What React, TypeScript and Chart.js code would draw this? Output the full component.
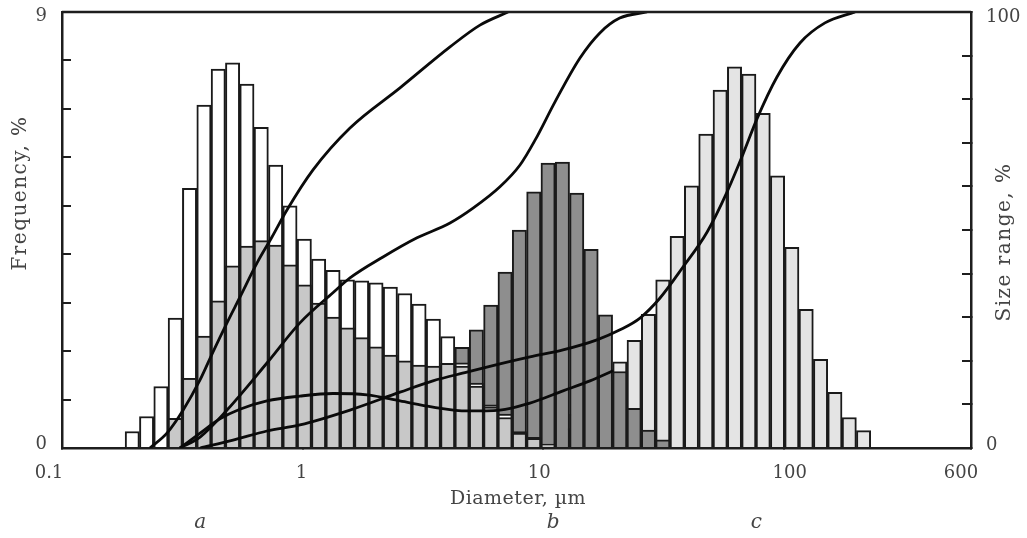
import { useEffect, useRef } from 'react';
import { Chart, registerables } from 'chart.js';

Chart.register(...registerables);

// Bin centres (µm), log-spaced
const diameters = [
  0.1959, 0.2247, 0.2577, 0.2956, 0.339, 0.389, 0.4461, 0.5117, 0.5869, 0.6731,
  0.7727, 0.8862, 1.0167, 1.166, 1.338, 1.535, 1.76, 2.019, 2.316, 2.657,
  3.048, 3.496, 4.01, 4.6, 5.277, 6.053, 6.944, 7.964, 9.138, 10.48,
  12.02, 13.79, 15.82, 18.15, 20.82, 23.88, 27.39, 31.42, 36.05, 41.34,
  47.43, 54.4, 62.4, 71.57, 82.11, 94.19, 108.0, 123.9, 142.2, 163.1,
  187.1, 214.6,
];

// Frequency (%), white histogram
const freqWhite = [
  0.34, 0.65, 1.27, 2.68, 5.36, 7.08, 7.82, 7.95, 7.51, 6.62,
  5.84, 5.0, 4.31, 3.9, 3.67, 3.47, 3.45, 3.41, 3.32, 3.19,
  2.97, 2.66, 2.3, 1.76, 1.34, 0.89, 0.7, 0.34, 0.22, 0,
  0, 0, 0, 0, 0, 0, 0, 0, 0, 0,
  0, 0, 0, 0, 0, 0, 0, 0, 0, 0,
  0, 0,
];
// Frequency (%), medium grey histogram
const freqMid = [
  0, 0, 0, 0.61, 1.44, 2.31, 3.04, 3.76, 4.17, 4.28,
  4.19, 3.78, 3.37, 2.99, 2.7, 2.48, 2.28, 2.09, 1.92, 1.8,
  1.71, 1.69, 1.75, 1.69, 1.28, 0.85, 0.63, 0.31, 0.2, 0.08,
  0, 0, 0, 0, 0, 0, 0, 0, 0, 0,
  0, 0, 0, 0, 0, 0, 0, 0, 0, 0,
  0, 0,
];
// Frequency (%), dark grey histogram (b)
const freqDark = [
  0, 0, 0, 0, 0, 0, 0, 0, 0, 0,
  0, 0, 0, 0, 0, 0, 0, 0, 0, 0,
  0.3, 0.7, 1.3, 2.08, 2.44, 2.95, 3.63, 4.5, 5.29, 5.88,
  5.9, 5.26, 4.1, 2.75, 1.58, 0.82, 0.37, 0.17, 0, 0,
  0, 0, 0, 0, 0, 0, 0, 0, 0, 0,
  0, 0,
];
// Frequency (%), light grey histogram (c)
const freqLight = [
  0, 0, 0, 0, 0, 0, 0, 0, 0, 0,
  0, 0, 0, 0, 0, 0, 0, 0, 0, 0,
  0, 0, 0, 0, 0, 0, 0, 0, 0.1, 0.2,
  0.4, 0.7, 1.0, 1.4, 1.78, 2.22, 2.76, 3.47, 4.37, 5.41,
  6.48, 7.39, 7.87, 7.72, 6.91, 5.62, 4.14, 2.86, 1.83, 1.15,
  0.63, 0.36,
];

// Cumulative curves (Size range, %)
const curve1X = [0.232, 0.273, 0.319, 0.3747, 0.424, 0.485, 0.549, 0.646, 0.746, 0.861, 1.105, 1.574, 2.54, 4.1, 5.46, 7.14];
const curve1Y = [0, 3.4, 8.7, 15.6, 22.0, 28.7, 34.6, 42.4, 48.4, 54.6, 63.8, 73.4, 82.6, 92.0, 97.0, 100];

const curve2X = [0.309, 0.375, 0.485, 0.711, 0.975, 1.337, 1.574, 2.159, 2.99, 4.1, 5.11, 6.61, 8.01, 9.25, 11.2, 14.2, 17.2, 20.8, 27.0];
const curve2Y = [0, 2.5, 8.7, 19.5, 28.7, 35.6, 39.0, 43.8, 48.2, 51.6, 55.0, 59.9, 64.9, 70.6, 79.4, 89.4, 95.2, 98.6, 100];

const curve3X = [0.309, 0.375, 0.4535, 0.549, 0.711, 0.975, 1.337, 1.853, 2.54, 3.48, 4.82, 6.61, 8.81, 12.09, 15.65, 19.5];
const curve3Y = [0, 3.4, 6.7, 8.9, 10.8, 11.9, 12.5, 12.2, 10.8, 9.4, 8.5, 8.7, 10.3, 13.1, 15.4, 17.7];

const curve4X = [0.375, 0.514, 0.711, 0.975, 1.574, 2.54, 3.48, 4.82, 6.61, 8.81, 12.09, 16.73, 20.86, 25.26, 30.59, 38.11, 47.96, 58.07, 67.69, 77.37, 93.69, 116.75, 148.3, 197.7];
const curve4Y = [0, 1.8, 3.9, 5.3, 8.7, 12.8, 15.4, 17.4, 19.3, 20.9, 22.5, 24.8, 27.1, 29.8, 34.4, 41.5, 49.5, 58.7, 67.4, 75.5, 85.1, 92.9, 97.5, 100];

const xTickValues = [0.1, 1, 10, 100, 600];
const xTickLabels = ['0.1', '1', '10', '100', '600'];
const xLabelShift = [-13, -1, -4, 6, -10];
const sampleLabels = ['a', 'b', 'c'];
const sampleLabelPos = [0.375, 11, 77];

const SERIF = '"DejaVu Serif", "Liberation Serif", serif';
const TEXT = '#444444';
const AXIS = '#1e1e1e';

const pts = (xs: number[], ys: number[]) => xs.map((x, i) => ({ x, y: ys[i] }));

const framePlugin = {
  id: 'frame',
  afterDraw(chart: any) {
    const ctx = chart.ctx as CanvasRenderingContext2D;
    const a = chart.chartArea;
    const xs = chart.scales.x;
    const ys = chart.scales.y;
    const y2 = chart.scales.y2;
    ctx.save();
    ctx.strokeStyle = AXIS;
    ctx.lineWidth = 2.5;
    ctx.beginPath();
    ctx.moveTo(a.left, a.top);
    ctx.lineTo(a.right, a.top);
    ctx.stroke();
    ctx.fillStyle = TEXT;
    ctx.textBaseline = 'middle';
    // tick labels
    ctx.font = `18px ${SERIF}`;
    ctx.textAlign = 'center';
    xTickValues.forEach((v, i) => {
      ctx.fillText(xTickLabels[i], xs.getPixelForValue(v) + xLabelShift[i], 473);
    });
    ctx.textAlign = 'right';
    ctx.fillText('9', a.left - 15, ys.getPixelForValue(9) + 4);
    ctx.fillText('0', a.left - 15, ys.getPixelForValue(0) - 4);
    ctx.textAlign = 'left';
    ctx.fillText('100', a.right + 15, y2.getPixelForValue(100) + 5);
    ctx.fillText('0', a.right + 15, y2.getPixelForValue(0) - 3);
    // titles
    ctx.textAlign = 'center';
    ctx.font = `20px ${SERIF}`;
    (ctx as any).letterSpacing = '1.5px';
    ctx.save();
    ctx.translate(21, 193);
    ctx.rotate(-Math.PI / 2);
    ctx.fillText('Frequency, %', 0, 0);
    ctx.restore();
    ctx.save();
    ctx.translate(1005, 242);
    ctx.rotate(-Math.PI / 2);
    ctx.fillText('Size range, %', 0, 0);
    ctx.restore();
    (ctx as any).letterSpacing = '0.5px';
    ctx.font = `19px ${SERIF}`;
    ctx.fillText('Diameter, µm', 518, 499);
    (ctx as any).letterSpacing = '0px';
    ctx.font = `italic 20px ${SERIF}`;
    sampleLabels.forEach((l, i) => {
      ctx.fillText(l, xs.getPixelForValue(sampleLabelPos[i]), 523);
    });
    ctx.restore();
  },
};

export default function App() {
  const ref = useRef<HTMLCanvasElement>(null);
  useEffect(() => {
    document.body.style.margin = '0';
    const bar = (data: number[], color: string, order: number) => ({
      type: 'bar' as const,
      data: pts(diameters, data),
      backgroundColor: color,
      borderColor: '#1a1a1a',
      borderWidth: 2,
      borderSkipped: 'start',
      grouped: false,
      barPercentage: 1,
      categoryPercentage: 1,
      order,
      xAxisID: 'x',
      yAxisID: 'y',
    });
    const line = (xs: number[], ys: number[]) => ({
      type: 'line' as const,
      data: pts(xs, ys),
      borderColor: '#0a0a0a',
      borderWidth: 2.8,
      pointRadius: 0,
      fill: false,
      cubicInterpolationMode: 'monotone',
      order: 0,
      xAxisID: 'x',
      yAxisID: 'y2',
    });
    const vFit = (w: number) => (s: any) => {
      s.width = w;
      s.paddingTop = 0;
      s.paddingBottom = 0;
    };
    const chart = new Chart(ref.current!, {
      type: 'bar',
      data: {
        datasets: [
          line(curve1X, curve1Y),
          line(curve2X, curve2Y),
          line(curve3X, curve3Y),
          line(curve4X, curve4Y),
          bar(freqMid, '#c8c8c8', 1),
          bar(freqWhite, '#ffffff', 2),
          bar(freqDark, '#8e8e8e', 3),
          bar(freqLight, '#e4e4e4', 4),
        ] as any,
      },
      options: {
        animation: false,
        responsive: false,
        devicePixelRatio: 1,
        layout: { padding: { top: 12, left: 0, right: 0, bottom: 0 }, autoPadding: false },
        plugins: { legend: { display: false }, tooltip: { enabled: false } },
        scales: {
          x: {
            type: 'logarithmic',
            position: 'bottom',
            min: 0.1,
            max: 600,
            offset: false,
            afterBuildTicks: (s: any) => {
              s.ticks = xTickValues.map((v) => ({ value: v }));
            },
            afterFit: (s: any) => {
              s.height = 90;
              s.paddingLeft = 0;
              s.paddingRight = 0;
            },
            ticks: { autoSkip: false, maxRotation: 0, callback: () => '' },
            grid: { offset: false, drawOnChartArea: false, drawTicks: true, tickLength: -7, color: AXIS, lineWidth: 2 },
            border: { display: true, color: AXIS, width: 2.5 },
          },
          y: {
            type: 'linear',
            position: 'left',
            min: 0,
            max: 9,
            afterBuildTicks: (s: any) => {
              s.ticks = [0, 1, 2, 3, 4, 5, 6, 7, 8, 9].map((v) => ({ value: v }));
            },
            afterFit: vFit(62),
            ticks: { callback: () => '' },
            grid: { drawOnChartArea: false, drawTicks: true, tickLength: -9, color: AXIS, lineWidth: 2 },
            border: { display: true, color: AXIS, width: 2.5 },
          },
          y2: {
            type: 'linear',
            position: 'right',
            min: 0,
            max: 100,
            afterBuildTicks: (s: any) => {
              s.ticks = [0, 10, 20, 30, 40, 50, 60, 70, 80, 90, 100].map((v) => ({ value: v }));
            },
            afterFit: vFit(56),
            ticks: { callback: () => '' },
            grid: { drawOnChartArea: false, drawTicks: true, tickLength: -9, color: AXIS, lineWidth: 2 },
            border: { display: true, color: AXIS, width: 2.5 },
          },
        },
      } as any,
      plugins: [framePlugin],
    });
    return () => chart.destroy();
  }, []);
  return <canvas ref={ref} width={1027} height={538} style={{ display: 'block', width: 1027, height: 538 }} />;
}
